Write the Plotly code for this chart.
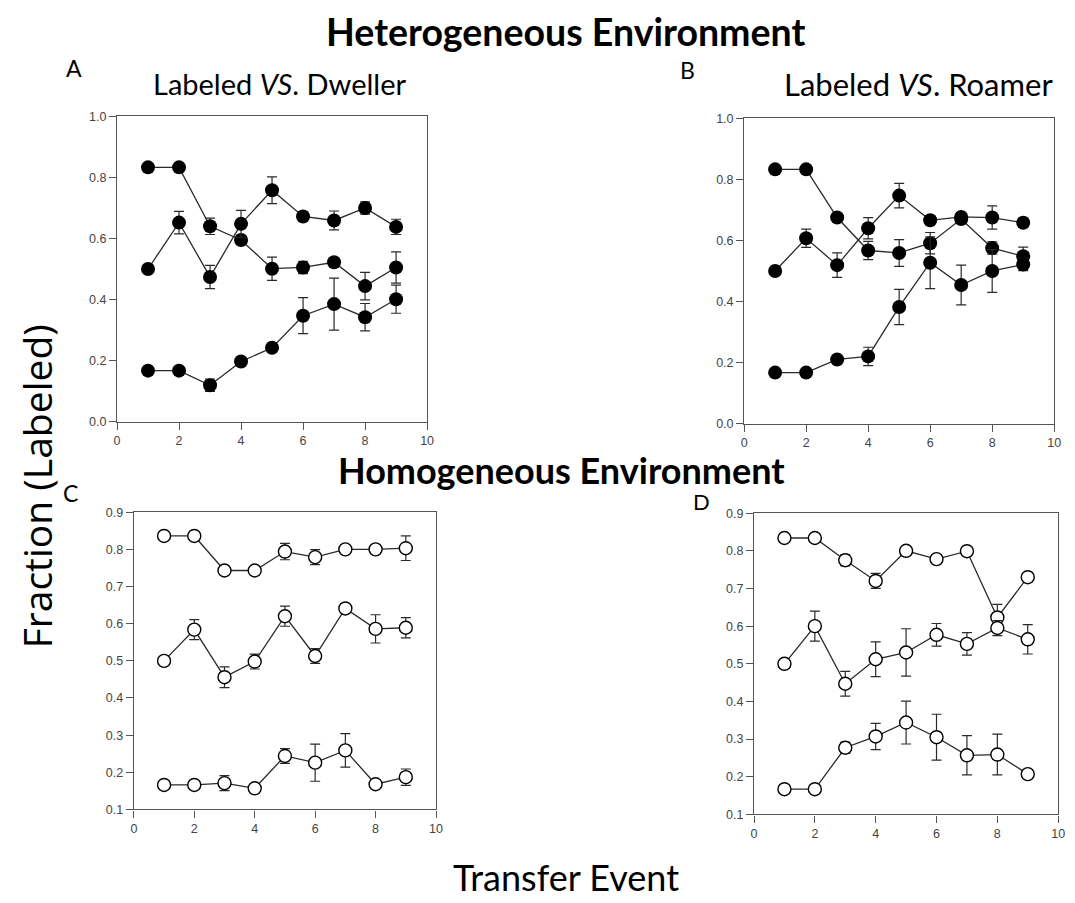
import plotly.graph_objects as go

transfer = [1, 2, 3, 4, 5, 6, 7, 8, 9]

# Panel A: Heterogeneous, Labeled vs Dweller
A_s1 = [0.833, 0.833, 0.640, 0.595, 0.501, 0.505, 0.522, 0.444, 0.505]
A_s1_err = [0, 0, 0.027, 0.015, 0.038, 0.020, 0.015, 0.045, 0.051]
A_s2 = [0.500, 0.652, 0.474, 0.648, 0.758, 0.672, 0.659, 0.700, 0.638]
A_s2_err = [0, 0.037, 0.038, 0.044, 0.044, 0.015, 0.031, 0.020, 0.025]
A_s3 = [0.167, 0.167, 0.119, 0.197, 0.242, 0.347, 0.385, 0.342, 0.401]
A_s3_err = [0, 0, 0.020, 0.012, 0.015, 0.059, 0.085, 0.045, 0.046]

# Panel B: Heterogeneous, Labeled vs Roamer
B_s1 = [0.833, 0.833, 0.675, 0.567, 0.559, 0.591, 0.670, 0.575, 0.548]
B_s1_err = [0, 0, 0.012, 0.030, 0.044, 0.035, 0.015, 0.020, 0.030]
B_s2 = [0.500, 0.607, 0.519, 0.640, 0.747, 0.666, 0.677, 0.675, 0.658]
B_s2_err = [0, 0.030, 0.040, 0.035, 0.040, 0.012, 0.012, 0.038, 0.015]
B_s3 = [0.167, 0.167, 0.210, 0.220, 0.382, 0.527, 0.454, 0.500, 0.521]
B_s3_err = [0, 0, 0.012, 0.030, 0.058, 0.085, 0.065, 0.070, 0.020]

# Panel C: Homogeneous, Labeled vs Dweller
C_s1 = [0.836, 0.836, 0.743, 0.743, 0.794, 0.779, 0.800, 0.800, 0.803]
C_s1_err = [0, 0, 0.008, 0.008, 0.022, 0.020, 0.008, 0.008, 0.033]
C_s2 = [0.500, 0.584, 0.456, 0.498, 0.620, 0.513, 0.641, 0.586, 0.589]
C_s2_err = [0, 0.027, 0.028, 0.020, 0.027, 0.020, 0.008, 0.038, 0.027]
C_s3 = [0.166, 0.166, 0.171, 0.157, 0.244, 0.226, 0.259, 0.168, 0.187]
C_s3_err = [0, 0, 0.020, 0.008, 0.020, 0.050, 0.045, 0.008, 0.022]

# Panel D: Homogeneous, Labeled vs Roamer
D_s1 = [0.834, 0.834, 0.775, 0.720, 0.800, 0.778, 0.799, 0.623, 0.730]
D_s1_err = [0, 0, 0.015, 0.020, 0.008, 0.010, 0.012, 0.035, 0.008]
D_s2 = [0.500, 0.600, 0.447, 0.512, 0.530, 0.577, 0.553, 0.595, 0.565]
D_s2_err = [0, 0.040, 0.033, 0.046, 0.063, 0.030, 0.030, 0.020, 0.039]
D_s3 = [0.167, 0.167, 0.277, 0.307, 0.344, 0.305, 0.257, 0.259, 0.207]
D_s3_err = [0, 0, 0.015, 0.035, 0.057, 0.061, 0.052, 0.054, 0.008]

W, H = 1075, 903
OFF = 8  # page body margin compensation


def px_x(v):
    return (v - OFF) / W


def px_y(v):
    return 1 - (v - OFF) / H


def dom_x(a, b):
    return [px_x(a), px_x(b)]


def dom_y(top, bottom):
    return [px_y(bottom), px_y(top)]


panels = [
    ("x", "y", [(A_s1, A_s1_err), (A_s2, A_s2_err), (A_s3, A_s3_err)], True),
    ("x2", "y2", [(B_s1, B_s1_err), (B_s2, B_s2_err), (B_s3, B_s3_err)], True),
    ("x3", "y3", [(C_s1, C_s1_err), (C_s2, C_s2_err), (C_s3, C_s3_err)], False),
    ("x4", "y4", [(D_s1, D_s1_err), (D_s2, D_s2_err), (D_s3, D_s3_err)], False),
]

fig = go.Figure()
for xa, ya, series, filled in panels:
    for vals, errs in series:
        fig.add_trace(go.Scatter(
            x=transfer, y=vals, xaxis=xa, yaxis=ya, mode="lines+markers",
            line=dict(color="#2a2a2a", width=1.3),
            marker=dict(size=14 if filled else 13,
                        color="black" if filled else "white",
                        line=dict(color="black", width=0 if filled else 1.4)),
            error_y=dict(type="data", array=errs, visible=True, color="#2a2a2a",
                         thickness=1.2, width=5),
            showlegend=False, cliponaxis=False,
        ))

axis_common = dict(showline=True, linecolor="#555", linewidth=1.2, mirror=True,
                   ticks="outside", ticklen=7, tickcolor="#555", showgrid=False,
                   zeroline=False, tickfont=dict(family="Arial", size=12.5, color="#444"))

layout = dict(
    width=W, height=H, margin=dict(l=0, r=0, t=0, b=0),
    paper_bgcolor="white", plot_bgcolor="white",
)
doms = {
    "": (dom_x(115, 428), dom_y(111, 421), [0, 1]),
    "2": (dom_x(748, 1061), dom_y(113, 423), [0, 1]),
    "3": (dom_x(132, 437), dom_y(513, 815), [0.1, 0.9]),
    "4": (dom_x(758, 1065), dom_y(514, 820), [0.1, 0.9]),
}
for k, (dx, dy, yr) in doms.items():
    xa = "x" + k
    layout["xaxis" + k] = dict(axis_common, domain=dx, range=[0, 10], dtick=2, tick0=0,
                               anchor="y" + k)
    layout["yaxis" + k] = dict(axis_common, domain=dy, range=yr,
                               dtick=0.2 if yr[0] == 0 else 0.1, tick0=0,
                               tickformat=".1f", anchor=xa)
fig.update_layout(**layout)

font = "Lato"
annots = [
    dict(text="<b>Heterogeneous Environment</b>", x=568, y=25, size=37.5),
    dict(text="<b>Homogeneous Environment</b>", x=564, y=470, size=36),
    dict(text="Labeled <i>VS</i>. Dweller", x=279, y=78, size=29),
    dict(text="Labeled <i>VS</i>. Roamer", x=924, y=78, size=31),
    dict(text="A", x=72, y=62, size=23),
    dict(text="B", x=691, y=64, size=23),
    dict(text="C", x=68, y=494, size=23),
    dict(text="D", x=705, y=502, size=22),
    dict(text="Transfer Event", x=568, y=884, size=36),
]
for a in annots:
    fig.add_annotation(text=a["text"], x=px_x(a["x"]), y=px_y(a["y"]), xref="paper",
                       yref="paper", showarrow=False, xanchor="center", yanchor="middle",
                       font=dict(family=font, size=a["size"], color="black"))
fig.add_annotation(text="Fraction (Labeled)", x=px_x(34), y=px_y(487), xref="paper",
                   yref="paper", showarrow=False, textangle=-90, xanchor="center",
                   yanchor="middle", font=dict(family="Open Sans", size=39, color="black"))

fig.write_html("out.html")
